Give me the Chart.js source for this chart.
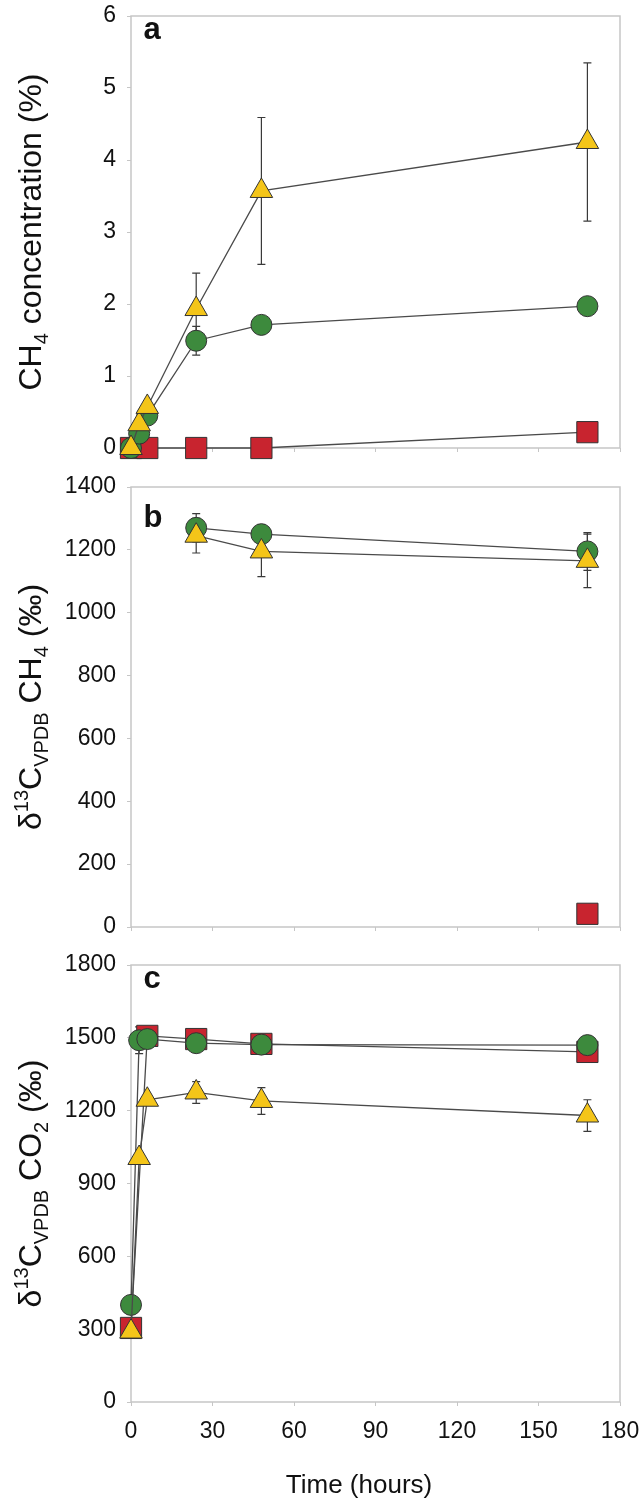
<!DOCTYPE html>
<html>
<head>
<meta charset="utf-8">
<script src="https://cdn.jsdelivr.net/npm/chart.js@4.4.0/dist/chart.umd.min.js"></script>
<style>
  html, body { margin: 0; padding: 0; background: #fff; }
  #wrap { position: relative; width: 641px; height: 1511px; overflow: hidden; }
  .panel { position: absolute; left: 0; width: 641px; }
</style>
</head>
<body>
<div id="wrap">
  <div class="panel" style="top:0;height:470px"><canvas id="chartA"></canvas></div>
  <div class="panel" style="top:470px;height:479px"><canvas id="chartB"></canvas></div>
  <div class="panel" style="top:949px;height:562px"><canvas id="chartC"></canvas></div>
</div>
<script>
// Tiempos de muestreo (horas)
const hours = [0, 3, 6, 24, 48, 168];
const hoursRed = [0, 6, 24, 48, 168];
const hoursB = [24, 48, 168];
const hoursRedB = [168];
const xTicks = [0, 30, 60, 90, 120, 150, 180];

// a: CH4 concentration (%)
const ch4Green = [0, 0.2, 0.45, 1.49, 1.71, 1.97];
const ch4GreenErr = [0, 0, 0, 0.2, 0.04, 0.12];
const ch4Yellow = [0, 0.33, 0.57, 1.93, 3.57, 4.25];
const ch4YellowErr = [0, 0, 0, 0.5, 1.02, 1.1];
const ch4Red = [0, 0, 0, 0, 0.22];
const yTicksA = [0, 1, 2, 3, 4, 5, 6];

// b: d13C CH4 (permil)
const d13ch4Green = [1270, 1250, 1195];
const d13ch4GreenErr = [45, 30, 60];
const d13ch4Yellow = [1245, 1195, 1165];
const d13ch4YellowErr = [55, 80, 85];
const d13ch4Red = [42];
const yTicksB = [0, 200, 400, 600, 800, 1000, 1200, 1400];

// c: d13C CO2 (permil)
const d13co2Green = [400, 1490, 1495, 1478, 1472, 1470];
const d13co2GreenErr = [0, 55, 0, 0, 0, 0];
const d13co2Red = [305, 1508, 1495, 1475, 1442];
const d13co2Yellow = [290, 1005, 1245, 1275, 1240, 1180];
const d13co2YellowErr = [0, 0, 0, 45, 55, 65];
const yTicksC = [0, 300, 600, 900, 1200, 1500, 1800];

const GREEN = '#3d8a3d';
const RED = '#c8242f';
const YELLOW = '#f4c519';
const FRAME = '#c6c6c6';
const TEXT = '#111';
const FONT = '"Liberation Sans", Arial, Helvetica, sans-serif';

Chart.defaults.font.family = FONT;

const pts = (xs, ys) => xs.map((x, i) => ({ x: x, y: ys[i] }));

function series(style, color, xs, ys, errs) {
    const r = style === 'rect' ? 15 : (style === 'triangle' ? 13 : 10.5);
    return {
        data: pts(xs, ys),
        errors: errs || null,
        pointStyle: style,
        pointRadius: r,
        pointHoverRadius: r,
        pointBackgroundColor: color,
        pointBorderColor: '#333',
        pointBorderWidth: 1,
        borderColor: '#4a4a4a',
        borderWidth: 1.3,
        showLine: true,
        fill: false,
        clip: false
    };
}

// marco, barras de error, titulos y letra del panel
const panelDecor = {
    id: 'panelDecor',
    beforeDatasetsDraw(chart, args, opts) {
        const { ctx, chartArea: ca } = chart;
        const xs = chart.scales.x, ys = chart.scales.y;
        ctx.save();
        ctx.strokeStyle = FRAME;
        ctx.lineWidth = 1.5;
        ctx.strokeRect(ca.left, ca.top, ca.right - ca.left, ca.bottom - ca.top);

        ctx.strokeStyle = '#3a3a3a';
        ctx.lineWidth = 1.2;
        chart.data.datasets.forEach(ds => {
            if (!ds.errors) return;
            ds.data.forEach((p, i) => {
                const e = ds.errors[i];
                if (!e) return;
                const px = xs.getPixelForValue(p.x);
                const top = ys.getPixelForValue(p.y + e);
                const bot = ys.getPixelForValue(p.y - e);
                ctx.beginPath();
                ctx.moveTo(px, top); ctx.lineTo(px, bot);
                ctx.moveTo(px - 4, top); ctx.lineTo(px + 4, top);
                ctx.moveTo(px - 4, bot); ctx.lineTo(px + 4, bot);
                ctx.stroke();
            });
        });
        ctx.restore();
    },
    afterDraw(chart, args, opts) {
        const { ctx, chartArea: ca } = chart;
        ctx.save();
        ctx.fillStyle = TEXT;

        // letra del panel
        ctx.font = 'bold 31px ' + FONT;
        ctx.textAlign = 'center';
        ctx.textBaseline = 'middle';
        ctx.fillText(opts.letter, ca.left + opts.letterDx, ca.top + opts.letterDy);

        // titulo del eje x (solo panel c)
        if (opts.xTitle) {
            ctx.font = '26px ' + FONT;
            ctx.fillText(opts.xTitle, opts.xTitleX, chart.height - opts.xTitleUp);
        }

        // titulo vertical con sub/superindices
        const big = 32, small = 20;
        const parts = opts.title.map(([t, kind]) => {
            ctx.font = (kind ? small : big) + 'px ' + FONT;
            return { t, kind, w: ctx.measureText(t).width };
        });
        const total = parts.reduce((s, p) => s + p.w, 0);
        const cy = (ca.top + ca.bottom) / 2 + (opts.titleDy || 0);
        ctx.translate(opts.titleX + 12, cy);
        ctx.rotate(-Math.PI / 2);
        ctx.textAlign = 'left';
        ctx.textBaseline = 'alphabetic';
        let x = -total / 2;
        parts.forEach(p => {
            ctx.font = (p.kind ? small : big) + 'px ' + FONT;
            const dy = p.kind === 1 ? 7 : (p.kind === 2 ? -13 : 0);
            ctx.fillText(p.t, x, dy);
            x += p.w;
        });
        ctx.restore();
    }
};

function makeChart(id, cfg) {
    const showX = !!cfg.showX;
    return new Chart(document.getElementById(id), {
        type: 'scatter',
        data: { datasets: cfg.datasets },
        options: {
            responsive: true,
            maintainAspectRatio: false,
            animation: false,
            events: [],
            layout: { padding: { top: cfg.padTop, right: 21, left: 0, bottom: 0 } },
            scales: {
                x: {
                    type: 'linear',
                    min: 0,
                    max: 180,
                    afterBuildTicks: s => { s.ticks = xTicks.map(v => ({ value: v })); },
                    afterFit: s => {
                        s.height = cfg.xHeight;
                        s.paddingLeft = 0;
                        s.paddingRight = 0;
                    },
                    ticks: {
                        display: showX, font: { size: 23 }, color: TEXT, padding: 12, maxRotation: 0,
                        callback: v => String(v)
                    },
                    grid: { drawOnChartArea: false, tickLength: 4, color: FRAME },
                    border: { display: false }
                },
                y: {
                    type: 'linear',
                    min: cfg.yTicks[0],
                    max: cfg.yTicks[cfg.yTicks.length - 1],
                    afterBuildTicks: s => { s.ticks = cfg.yTicks.map(v => ({ value: v })); },
                    afterFit: s => {
                        s.width = 131;
                        s.paddingTop = 0;
                        s.paddingBottom = 0;
                    },
                    ticks: { font: { size: 23 }, color: TEXT, padding: 11, callback: v => String(v) },
                    grid: { drawOnChartArea: false, tickLength: 4, color: FRAME },
                    border: { display: false }
                }
            },
            plugins: {
                legend: { display: false },
                tooltip: { enabled: false },
                panelDecor: cfg.decor
            }
        },
        plugins: [panelDecor]
    });
}

// Panel a
makeChart('chartA', {
    padTop: 9,
    xHeight: 22,
    yTicks: yTicksA,
    datasets: [
        series('triangle', YELLOW, hours, ch4Yellow, ch4YellowErr),
        series('circle', GREEN, hours, ch4Green, ch4GreenErr),
        series('rect', RED, hoursRed, ch4Red)
    ],
    decor: {
        letter: 'a', letterDx: 21, letterDy: 14, titleX: 29,
        title: [['CH', 0], ['4', 1], [' concentration (%)', 0]]
    }
});

// Panel b
makeChart('chartB', {
    padTop: 17,
    xHeight: 22,
    yTicks: yTicksB,
    datasets: [
        series('triangle', YELLOW, hoursB, d13ch4Yellow, d13ch4YellowErr),
        series('circle', GREEN, hoursB, d13ch4Green, d13ch4GreenErr),
        series('rect', RED, hoursRedB, d13ch4Red)
    ],
    decor: {
        letter: 'b', letterDx: 22, letterDy: 31, titleX: 29,
        title: [['δ', 0], ['13', 2], ['C', 0], ['VPDB', 1], [' CH', 0], ['4', 1], [' (‰)', 0]]
    }
});

// Panel c
makeChart('chartC', {
    padTop: 11,
    xHeight: 109,
    showX: true,
    yTicks: yTicksC,
    datasets: [
        series('triangle', YELLOW, hours, d13co2Yellow, d13co2YellowErr),
        series('circle', GREEN, hours, d13co2Green, d13co2GreenErr),
        series('rect', RED, hoursRed, d13co2Red)
    ],
    decor: {
        letter: 'c', letterDx: 21, letterDy: 14, titleX: 29,
        xTitle: 'Time (hours)', xTitleX: 359, xTitleUp: 25,
        title: [['δ', 0], ['13', 2], ['C', 0], ['VPDB', 1], [' CO', 0], ['2', 1], [' (‰)', 0]]
    }
});
</script>
</body>
</html>
